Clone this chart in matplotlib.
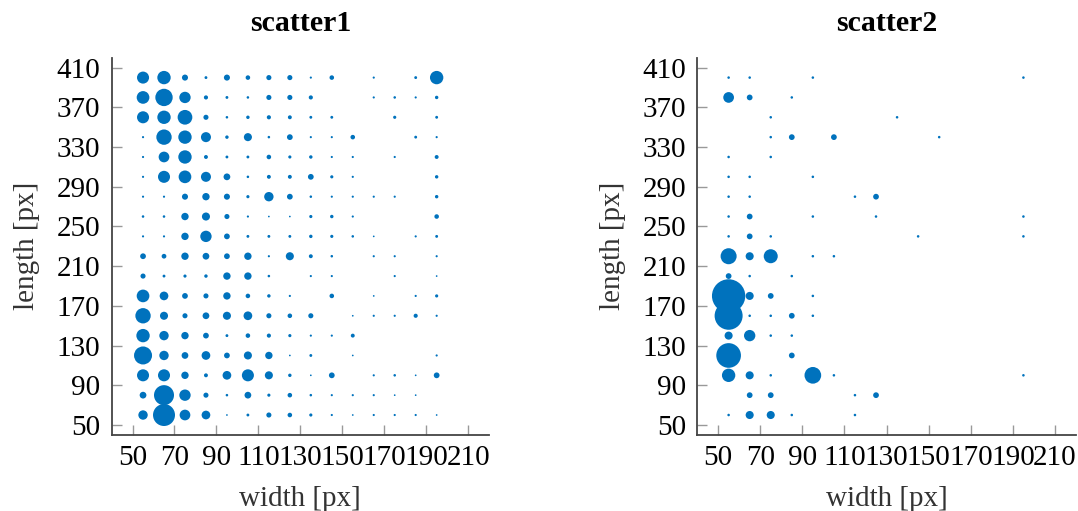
import numpy as np
import matplotlib
matplotlib.use("Agg")
import matplotlib.pyplot as plt

plt.rcParams['font.family'] = ['Liberation Serif', 'DejaVu Serif']

# bin centres
widths = [55, 65, 75, 85, 95, 105, 115, 125, 135, 145, 155, 165, 175, 185, 195]
lengths = [400, 380, 360, 340, 320, 300, 280, 260, 240,
           220, 200, 180, 160, 140, 120, 100, 80, 60]

xticks = [50, 70, 90, 110, 130, 150, 170, 190, 210]
yticks = [50, 90, 130, 170, 210, 250, 290, 330, 370, 410]

# counts per (length row, width column)
counts1 = [
    [81, 100, 20, 4, 20, 11, 14, 14, 2, 11, 0, 2, 0, 4, 100],
    [90, 169, 72, 9, 4, 3, 14, 14, 9, 0, 0, 2, 3, 2, 6],
    [81, 100, 121, 14, 3, 6, 9, 8, 4, 4, 0, 0, 5, 0, 4],
    [2, 132, 100, 56, 6, 36, 3, 18, 2, 2, 11, 0, 0, 4, 2],
    [2, 64, 100, 8, 4, 4, 11, 5, 6, 2, 2, 0, 2, 0, 8],
    [2, 81, 90, 56, 25, 3, 8, 8, 18, 5, 2, 0, 0, 0, 6],
    [2, 2, 20, 30, 20, 5, 49, 18, 3, 2, 2, 2, 2, 0, 6],
    [3, 3, 30, 36, 14, 2, 1, 1, 5, 6, 2, 0, 0, 0, 11],
    [2, 2, 30, 72, 18, 4, 4, 4, 6, 5, 3, 1, 0, 2, 4],
    [18, 12, 30, 25, 18, 30, 2, 36, 8, 3, 0, 2, 2, 0, 2],
    [14, 4, 5, 6, 30, 30, 3, 0, 2, 2, 0, 0, 2, 0, 1],
    [90, 42, 18, 14, 30, 11, 6, 2, 0, 11, 0, 1, 0, 2, 5],
    [132, 36, 14, 25, 36, 42, 14, 11, 14, 0, 1, 2, 2, 9, 2],
    [100, 49, 30, 18, 4, 11, 9, 5, 2, 2, 8, 0, 0, 0, 0],
    [182, 49, 25, 42, 18, 36, 30, 1, 4, 0, 1, 0, 0, 0, 2],
    [81, 81, 30, 8, 42, 81, 36, 6, 1, 18, 0, 2, 3, 1, 18],
    [25, 225, 72, 14, 3, 25, 5, 11, 3, 2, 2, 2, 1, 1, 0],
    [49, 272, 64, 42, 1, 4, 14, 11, 5, 2, 1, 2, 2, 2, 1],
]

counts2 = [
    [3, 3, 0, 0, 3, 0, 0, 0, 0, 0, 0, 0, 0, 0, 3],
    [64, 18, 0, 3, 0, 0, 0, 0, 0, 0, 0, 0, 0, 0, 0],
    [0, 0, 3, 0, 0, 0, 0, 0, 3, 0, 0, 0, 0, 0, 0],
    [0, 0, 3, 18, 0, 18, 0, 0, 0, 0, 3, 0, 0, 0, 0],
    [3, 0, 3, 0, 0, 0, 0, 0, 0, 0, 0, 0, 0, 0, 0],
    [3, 3, 0, 0, 3, 0, 0, 0, 0, 0, 0, 0, 0, 0, 0],
    [3, 3, 0, 0, 0, 0, 3, 18, 0, 0, 0, 0, 0, 0, 0],
    [3, 18, 0, 0, 3, 0, 0, 3, 0, 0, 0, 0, 0, 0, 3],
    [3, 18, 3, 0, 0, 0, 0, 0, 0, 3, 0, 0, 0, 0, 3],
    [144, 36, 110, 0, 3, 3, 0, 0, 0, 0, 0, 0, 0, 0, 0],
    [18, 3, 0, 3, 0, 0, 0, 0, 0, 0, 0, 0, 0, 0, 0],
    [625, 36, 18, 0, 3, 0, 0, 0, 0, 0, 0, 0, 0, 0, 0],
    [441, 3, 3, 18, 3, 0, 0, 0, 0, 0, 0, 0, 0, 0, 0],
    [36, 72, 3, 3, 0, 0, 0, 0, 0, 0, 0, 0, 0, 0, 0],
    [342, 0, 0, 18, 0, 0, 0, 0, 0, 0, 0, 0, 0, 0, 0],
    [100, 36, 3, 0, 156, 3, 0, 0, 0, 0, 0, 0, 0, 0, 3],
    [0, 18, 18, 0, 0, 0, 3, 18, 0, 0, 0, 0, 0, 0, 0],
    [3, 36, 36, 3, 0, 0, 3, 0, 0, 0, 0, 0, 0, 0, 0],
]

BLUE = '#0072BD'

fig = plt.figure(figsize=(10.78, 5.11), dpi=100)
ax1 = fig.add_axes([0.1035, 0.149, 0.3502, 0.738])
ax2 = fig.add_axes([0.6466, 0.149, 0.3516, 0.738])


def draw(ax, counts, title):
    X, Y = np.meshgrid(widths, lengths)
    C = np.array(counts, dtype=float)
    m = C > 0
    ax.scatter(X[m], Y[m], s=C[m] * 0.92 + 0.6, color=BLUE, linewidths=0)
    ax.set_xlim(40, 220)
    ax.set_ylim(40, 420)
    ax.set_xticks(xticks)
    ax.set_yticks(yticks)
    ax.spines['top'].set_visible(False)
    ax.spines['right'].set_visible(False)
    for sp in ('left', 'bottom'):
        ax.spines[sp].set_color('#444444')
        ax.spines[sp].set_linewidth(1.3)
    ax.tick_params(direction='in', length=7.5, width=1, color='#999999',
                   labelsize=21)
    ax.tick_params(axis='x', pad=7)
    ax.tick_params(axis='y', pad=8)
    ax.set_xlabel('width [px]', fontsize=21, color='#333333', labelpad=11)
    ax.set_ylabel('length [px]', fontsize=21, color='#333333', labelpad=12)
    ax.set_title(title, fontsize=21.5, fontweight='bold', pad=19)


draw(ax1, counts1, 'scatter1')
draw(ax2, counts2, 'scatter2')

fig.savefig('out.png', dpi=100)
